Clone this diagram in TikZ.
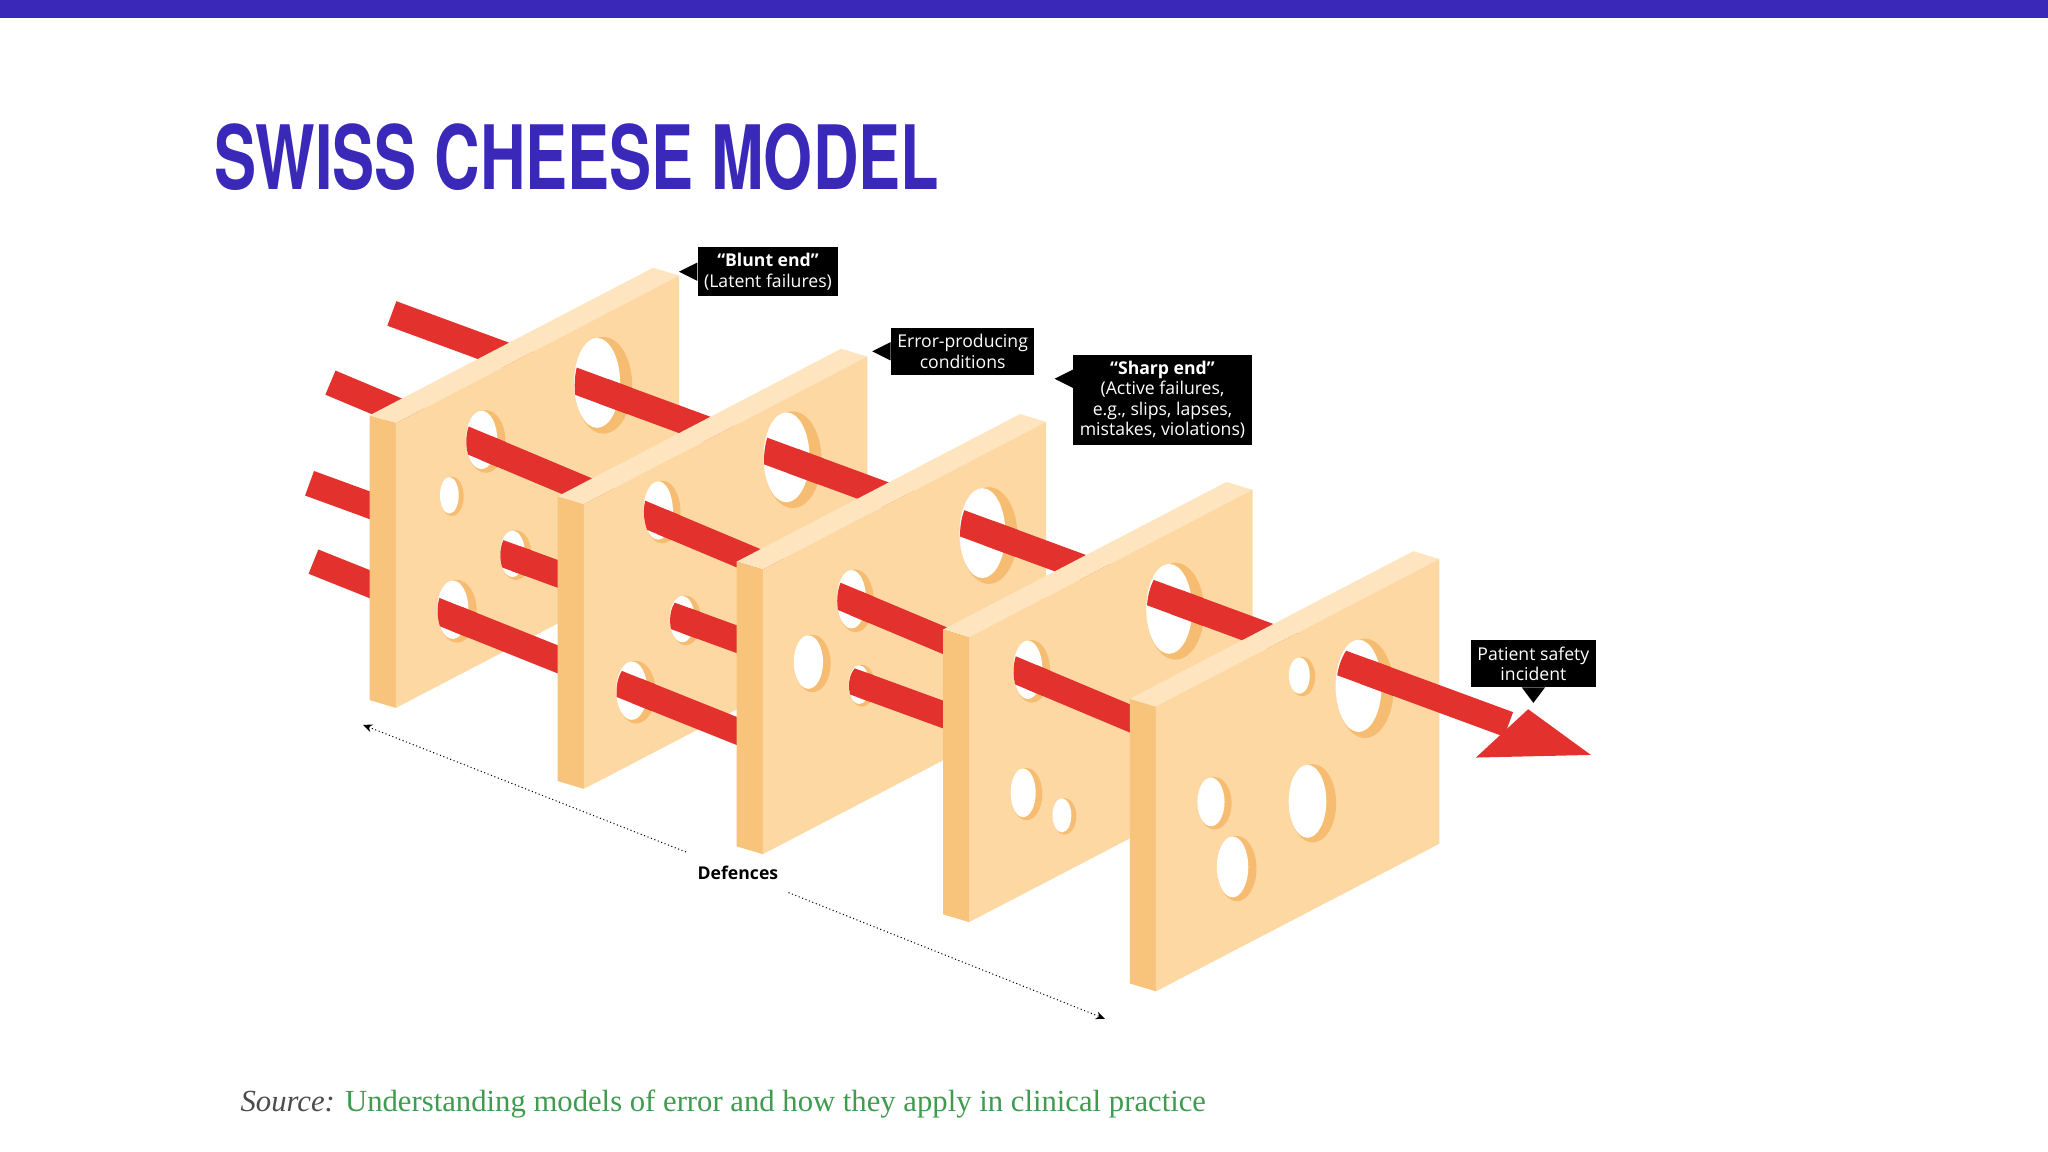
\documentclass[tikz,border=0pt]{standalone}
\usepackage{fontspec}
\setmainfont{Liberation Serif}
\newfontfamily\titlefont{TeX Gyre Heros}
\newfontfamily\labfont{Open Sans}
\usetikzlibrary{arrows.meta}
\definecolor{ttl}{HTML}{3A28B8}
\definecolor{rd}{HTML}{E3312D}
\definecolor{face}{HTML}{FDD8A2}
\definecolor{side}{HTML}{F8C47B}
\definecolor{topc}{HTML}{FEE5C0}
\definecolor{hsh}{HTML}{F6BD72}
\definecolor{grn}{HTML}{3E9B4F}
\tikzset{band/.style={draw=rd,line width=20pt},
 lab/.style={fill=black,text=white,font=\labfont\fontsize{13.5}{15.5}\selectfont,align=center,inner sep=5pt}}
\newcommand\myslice[2]{%
 \fill[side] (#1,#2) -- ({#1+20},{#2+6}) -- ({#1+20},{#2+224}) -- (#1,{#2+218}) -- cycle;
 \fill[topc] (#1,#2) -- ({#1+217},{#2-113}) -- ({#1+237},{#2-107}) -- ({#1+20},{#2+6}) -- cycle;
 \fill[face] ({#1+20},{#2+6}) -- ({#1+237},{#2-107}) -- ({#1+237},{#2+111}) -- ({#1+20},{#2+224}) -- cycle;}
\newcommand\myhole[4]{%
 \fill[hsh] (#1,#2) ellipse [x radius=#3, y radius=#4];
 \fill[white] ({#1-0.22*#3},{#2-0.05*#4}) ellipse [x radius={0.8*#3}, y radius={0.93*#4}];}
\newcommand\bseg[4]{\draw[band] (#3,{#1+#2*(#3)}) -- (#4,{#1+#2*(#4)});}
\newcommand\bhole[6]{\begin{scope}\clip (#3,#4) ellipse [x radius=#5, y radius=#6];
 \bseg{#1}{#2}{#3-40}{#3+40}\end{scope}\bseg{#1}{#2}{#3}{#3+160}}
\def\BA{129.6}\def\SA{0.368}
\def\BB{186.7}\def\SB{0.42}
\def\BC{283.5}\def\SC{0.365}
\def\BD{334}\def\SD{0.4}
\begin{document}
\begin{tikzpicture}[x=1pt,y=-1pt]
\useasboundingbox (0,0) rectangle (1568,882);
\fill[ttl] (0,0) rectangle (1568,14);
\node[anchor=west,text=ttl,inner sep=0] (title) at (164,120) {\scalebox{0.71}[1]{\titlefont\bfseries\fontsize{68}{68}\selectfont SWISS CHEESE MODEL}};
\bseg{\BA}{\SA}{300}{420}
\bseg{\BB}{\SB}{253}{330}
\bseg{\BC}{\SC}{237}{320}
\bseg{\BD}{\SD}{240}{320}
% slice 1
\myslice{283}{318}
\myhole{462}{295}{22}{37}\myhole{372}{338}{15}{24}\myhole{346}{380}{9}{15}
\myhole{395}{425}{12}{19}\myhole{350}{468}{15}{24}
\bhole{\BA}{\SA}{462}{295}{22}{37}
\bhole{\BB}{\SB}{372}{338}{15}{24}
\bhole{\BC}{\SC}{395}{425}{12}{19}
\bhole{\BD}{\SD}{350}{468}{15}{24}
% slice 2
\myslice{427}{380}
\myhole{607}{352}{22}{37}\myhole{507}{392}{14}{24}\myhole{525}{475}{12}{19}\myhole{487}{530}{15}{24}
\bhole{\BA}{\SA}{607}{352}{22}{37}
\bhole{\BB}{\SB}{507}{392}{14}{24}
\bhole{\BC}{\SC}{525}{475}{12}{19}
\bhole{\BD}{\SD}{487}{530}{15}{24}
% slice 3
\myslice{564}{430}
\myhole{757}{410}{22}{37}\myhole{655}{460}{14}{24}\myhole{622}{508}{14}{22}\myhole{660}{525}{10}{16}
\bhole{\BA}{\SA}{757}{410}{22}{37}
\bhole{\BB}{\SB}{655}{460}{14}{24}
\bhole{\BC}{\SC}{660}{525}{10}{16}
% slice 4
\myslice{722}{482}
\myhole{900}{468}{22}{37}\myhole{790}{514}{14}{24}\myhole{786}{608}{12}{20}\myhole{815}{625}{9}{14}
\bhole{\BA}{\SA}{900}{468}{22}{37}
\bhole{\BB}{\SB}{790}{514}{14}{24}
% slice 5
\myslice{865}{535}
\myhole{1045}{527}{22}{38}\myhole{997}{518}{10}{15}\myhole{930}{615}{13}{20}
\myhole{1005}{615}{18}{30}\myhole{947}{665}{15}{25}
\begin{scope}\clip (1045,527) ellipse [x radius=22, y radius=38];\bseg{\BA}{\SA}{1000}{1090}\end{scope}
\bseg{\BA}{\SA}{1045}{1155}
\fill[rd] (1218,578) -- (1130,580) -- (1170,543) -- cycle;
% labels
\node[lab] (blunt) at (588,208) {\textbf{“Blunt end”}\\(Latent failures)};
\fill (blunt.west) ++(0,-7) -- ++(-14,7) -- ++(14,7) -- cycle;
\node[lab] (err) at (737,269) {Error-producing\\conditions};
\fill (err.west) ++(0,-7) -- ++(-14,7) -- ++(14,7) -- cycle;
\node[lab] (sharp) at (890,306) {\textbf{“Sharp end”}\\(Active failures,\\e.g., slips, lapses,\\mistakes, violations)};
\fill ([yshift=16pt]sharp.west) ++(0,-7) -- ++(-14,7) -- ++(14,7) -- cycle;
\node[lab] (pat) at (1174,508) {Patient safety\\incident};
\fill (pat.south) ++(-9,0) -- ++(9,12) -- ++(9,-12) -- cycle;
% defences
\coordinate (d1) at (278,555);
\coordinate (d2) at (846,780);
\node[font=\labfont\bfseries\fontsize{13.5}{15}\selectfont,inner sep=10pt] (def) at (565,668) {Defences};
\draw[dotted,thick,{Stealth[length=7pt,width=6pt]}-] (d1) -- (def);
\draw[dotted,thick,-{Stealth[length=7pt,width=6pt]}] (def) -- (d2);
% source
\node[anchor=west,inner sep=0,font=\fontsize{23.5}{25}\selectfont] (src) at (184,845) {\textcolor{black!70}{\textit{Source:}} \textcolor{grn}{Understanding models of error and how they apply in clinical practice}};
\end{tikzpicture}
\end{document}
